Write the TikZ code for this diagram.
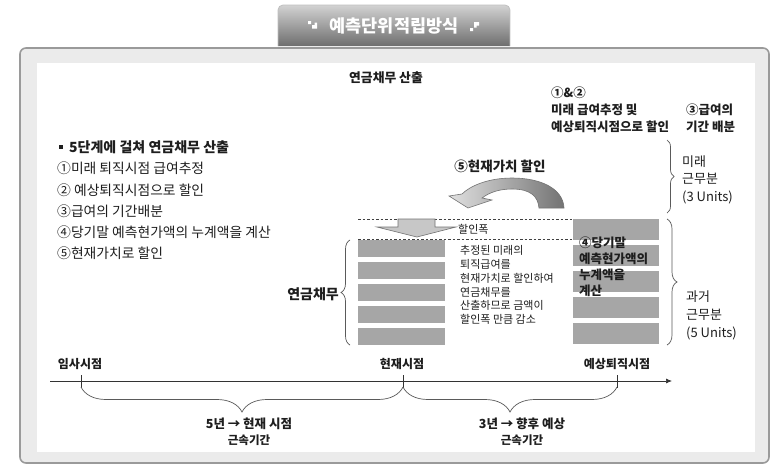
\documentclass[tikz,border=0pt]{standalone}
\usepackage{fontspec}
\setmainfont{Noto Sans CJK KR}
\usetikzlibrary{decorations.pathreplacing,arrows.meta}
\definecolor{boxgray}{HTML}{A6A6A6}
\definecolor{framegray}{HTML}{EBEBEB}
\definecolor{framebd}{HTML}{9A9A9A}
\definecolor{tabtop}{HTML}{D2D2D2}
\definecolor{tabbot}{HTML}{6E6E6E}
\definecolor{txt}{HTML}{1E1E1E}
\definecolor{bracegray}{HTML}{5A5A5A}
\begin{document}
\begin{tikzpicture}[x=1pt,y=-1pt,
  lbl/.style={inner sep=0pt,text=txt},
  stackbox/.style={fill=boxgray,draw=none},
  brc/.style={draw=bracegray,line width=0.7pt,decorate},
  dsh/.style={draw=black!75,dashed,dash pattern=on 2.5pt off 2pt,line width=0.6pt},
  fs/.style={font=\fontsize{#1}{#1}\selectfont},
  fsb/.style={font=\fontsize{#1}{#1}\selectfont\bfseries}]
\useasboundingbox (0,0) rectangle (775,466);
\fill[white] (0,0) rectangle (775,466);
% frame
\draw[draw=framebd,line width=1.6pt,fill=framegray,rounded corners=6pt] (20,48) rectangle (769,463);
\fill[white] (37,63) rectangle (755,452);
% tab
\path[draw=black!25,line width=0.8pt,top color=tabtop,bottom color=tabbot,rounded corners=5pt] (278,46) -- (278,5) -- (510,5) -- (510,46);
\node[lbl,fsb=17.5,text=white] (title) at (394,26) {예측단위적립방식};
\fill[white] (308,21) rectangle (311,24) (312,25) rectangle (317,28.5) (314.5,22.5) rectangle (317,28.5);
\fill[white] (470,28) rectangle (473,31) (474,22) rectangle (479,25.5) (474,22) rectangle (476.5,27.5);
% header texts
\node[lbl,fsb=12.8] (hdr) at (386,78) {연금채무 산출};
\node[lbl,fsb=12.5,anchor=west] (s12a) at (551,93) {①\&②};
\node[lbl,fsb=12.5,anchor=west] (s12b) at (551,110) {미래 급여추정 및};
\node[lbl,fsb=12.5,anchor=west] (s12c) at (551,127) {예상퇴직시점으로 할인};
\node[lbl,fsb=12.5,anchor=west] (s3a) at (686,110) {③급여의};
\node[lbl,fsb=12.5,anchor=west] (s3b) at (686,127) {기간 배분};
% list
\fill[txt] (58.5,144.5) rectangle (63,149);
\node[lbl,fsb=14,anchor=west] (lh) at (69,147) {5단계에 걸쳐 연금채무 산출};
\node[lbl,fs=13.8,anchor=west] (l1) at (57,168) {①미래 퇴직시점 급여추정};
\node[lbl,fs=13.8,anchor=west] (l2) at (57,190) {② 예상퇴직시점으로 할인};
\node[lbl,fs=13.8,anchor=west] (l3) at (57,211) {③급여의 기간배분};
\node[lbl,fs=13.8,anchor=west] (l4) at (57,232) {④당기말 예측현가액의 누계액을 계산};
\node[lbl,fs=13.8,anchor=west] (l5) at (57,253) {⑤현재가치로 할인};
% curved arrow
\node[lbl,fsb=13.5] (pv) at (500,166) {⑤현재가치 할인};
\path[draw=black!55,line width=0.6pt,left color=black!12,right color=black!55]
  (564,208) .. controls (563,188) and (540,178) .. (512,178)
  .. controls (488,178) and (470,186) .. (462,194)
  -- (449,196) -- (468,208) -- (492,200) -- (482,198)
  .. controls (490,192) and (500,189) .. (512,189)
  .. controls (530,189) and (538,196) .. (539,208) -- cycle;
% dashed lines
\coordinate (d1a) at (358,219); \coordinate (d1b) at (573,219);
\coordinate (d2a) at (358,239); \coordinate (d2b) at (573,239);
\draw[dsh] (d1a) -- (d1b);
\draw[dsh] (d2a) -- (d2b);
% down arrow
\path[draw=black!55,line width=0.6pt,fill=black!22]
  (398,219) -- (435,219) -- (435,227) -- (456,227) -- (417,237) -- (377,227) -- (398,227) -- cycle;
\node[lbl,fs=11,anchor=west] (cut) at (458,229) {할인폭};
% left stack
\foreach \y [count=\i] in {240,262,284,306,328}
  \fill[boxgray] (358,\y) rectangle (445,\y+17);
\coordinate (lb1) at (350,345); \coordinate (lb2) at (350,240);
\draw[brc,decoration={brace,amplitude=9pt}] (lb1) -- (lb2);
\node[lbl,fsb=14,anchor=east] (debt) at (339,294) {연금채무};
% explanation
\node[lbl,fs=11,anchor=west] (e1) at (460,250) {추정된 미래의};
\node[lbl,fs=11,anchor=west] (e2) at (460,264) {퇴직급여를};
\node[lbl,fs=11,anchor=west] (e3) at (460,278) {현재가치로 할인하여};
\node[lbl,fs=11,anchor=west] (e4) at (460,292) {연금채무를};
\node[lbl,fs=11,anchor=west] (e5) at (460,305) {산출하므로 금액이};
\node[lbl,fs=11,anchor=west] (e6) at (460,319) {할인폭 만큼 감소};
% right stack
\foreach \y [count=\i] in {219,245,271,297,323}
  \fill[boxgray] (573,\y) rectangle (659,\y+21);
\node[lbl,fsb=12.5,anchor=west] (r1) at (579,243) {④당기말};
\node[lbl,fsb=12.5,anchor=west] (r2) at (579,259) {예측현가액의};
\node[lbl,fsb=12.5,anchor=west] (r3) at (579,275) {누계액을};
\node[lbl,fsb=12.5,anchor=west] (r4) at (579,291) {계산};
% right braces
\coordinate (fb1) at (667,140); \coordinate (fb2) at (667,213);
\draw[brc,decoration={brace,amplitude=7pt}] (fb1) -- (fb2);
\node[lbl,fs=13,anchor=west] (f1) at (682,162) {미래};
\node[lbl,fs=13,anchor=west] (f2) at (682,179) {근무분};
\node[lbl,fs=13,anchor=west] (f3) at (682,197) {(3 Units)};
\coordinate (pb1) at (667,219); \coordinate (pb2) at (667,345);
\draw[brc,decoration={brace,amplitude=10pt}] (pb1) -- (pb2);
\node[lbl,fs=13,anchor=west] (p1) at (686,297) {과거};
\node[lbl,fs=13,anchor=west] (p2) at (686,315) {근무분};
\node[lbl,fs=13,anchor=west] (p3) at (686,333) {(5 Units)};
% timeline
\coordinate (t0) at (50,381); \coordinate (tend) at (672,381);
\coordinate (ta) at (81,381); \coordinate (tb) at (403,381); \coordinate (tc) at (617,381);
\draw[black!80,line width=0.7pt,-{Latex[length=6pt,width=5pt]}] (t0) -- (tend);
\foreach \c in {ta,tb,tc} \draw[black!80,line width=0.7pt] ([yshift=6pt]\c) -- ([yshift=-7pt]\c);
\node[lbl,fsb=12] (la) at (80,364) {임사시점};
\node[lbl,fsb=12] (lb) at (402,364) {현재시점};
\node[lbl,fsb=12] (lc) at (617,364) {예상퇴직시점};
\draw[brc,decoration={brace,amplitude=25pt}] ([yshift=-6pt]tb) -- ([yshift=-6pt]ta);
\draw[brc,decoration={brace,amplitude=25pt}] ([yshift=-6pt]tc) -- ([yshift=-6pt]tb);
\node[lbl,fsb=12.5] (ba1) at (249,424) {5년 → 현재 시점};
\node[lbl,fsb=11.5] (ba2) at (249,440) {근속기간};
\node[lbl,fsb=12.5] (bb1) at (522,424) {3년 → 향후 예상};
\node[lbl,fsb=11.5] (bb2) at (522,440) {근속기간};
\end{tikzpicture}
\end{document}
